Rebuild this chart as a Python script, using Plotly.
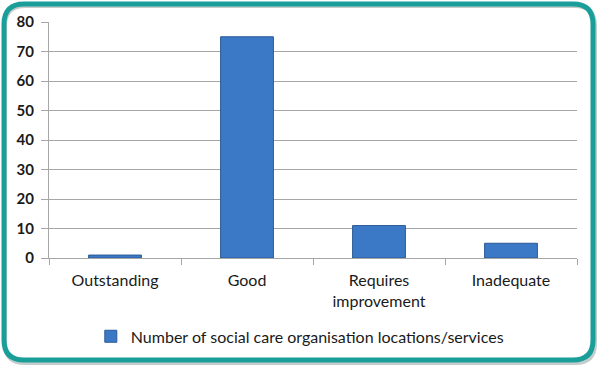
import plotly.graph_objects as go

categories = ["Outstanding", "Good", "Requires<br>improvement", "Inadequate"]
values = [1, 75, 11, 5]
series_name = "Number of social care organisation locations/services"
y_ticks = [0, 10, 20, 30, 40, 50, 60, 70, 80]

W, H = 600, 369
L, R, T, B = 49, 23, 22, 111
PW, PH = W - L - R, H - T - B


def px(x, y):
    return (x - L) / PW, (H - B - y) / PH


def rounded_path(x0, y0, x1, y1, r):
    def P(x, y):
        a, b = px(x, y)
        return f"{a:.5f},{b:.5f}"
    s = f"M {P(x0 + r, y0)} L {P(x1 - r, y0)} Q {P(x1, y0)} {P(x1, y0 + r)} "
    s += f"L {P(x1, y1 - r)} Q {P(x1, y1)} {P(x1 - r, y1)} "
    s += f"L {P(x0 + r, y1)} Q {P(x0, y1)} {P(x0, y1 - r)} "
    s += f"L {P(x0, y0 + r)} Q {P(x0, y0)} {P(x0 + r, y0)} Z"
    return s


fig = go.Figure()
fig.add_trace(go.Bar(
    x=categories, y=values, name=series_name,
    marker=dict(color="#3b79c7", line=dict(color="#2a5a96", width=1)),
    width=0.4, showlegend=True,
))

grid = "#a6a6a6"
fig.update_layout(
    width=W, height=H,
    margin=dict(l=L, r=R, t=T, b=B),
    paper_bgcolor="white", plot_bgcolor="white",
    font=dict(family="Lato, Carlito, Calibri, sans-serif", color="#1a1a1a", size=16),
    showlegend=True,
    legend=dict(orientation="h", x=0.475, xanchor="center", y=-0.26, yanchor="top",
                font=dict(size=16), itemwidth=30),
    xaxis=dict(type="category", tickson="boundaries", ticks="outside", ticklen=6,
               tickcolor=grid, showline=True, linecolor=grid, showgrid=False,
               tickfont=dict(size=16), ticklabelstandoff=8),
    yaxis=dict(range=[0, 80], tickvals=y_ticks, ticks="outside", ticklen=7, tickcolor=grid,
               showline=True, linecolor=grid, showgrid=True, gridcolor=grid,
               zeroline=False, tickfont=dict(size=15, family="Lato, sans-serif", weight="bold"),
               ticklabelstandoff=4),
    bargap=0.6,
)

fig.add_shape(type="path", xref="paper", yref="paper",
              path=rounded_path(5, 6, 595, 363, 20),
              line=dict(color="#8a9a9a", width=4), opacity=0.5, layer="below")
fig.add_shape(type="path", xref="paper", yref="paper",
              path=rounded_path(4, 4, 593, 360, 20),
              line=dict(color="#1a9e99", width=5), layer="above")

fig.write_html("out.html", config={"displayModeBar": False},
               post_script="document.body.style.margin='0';")
